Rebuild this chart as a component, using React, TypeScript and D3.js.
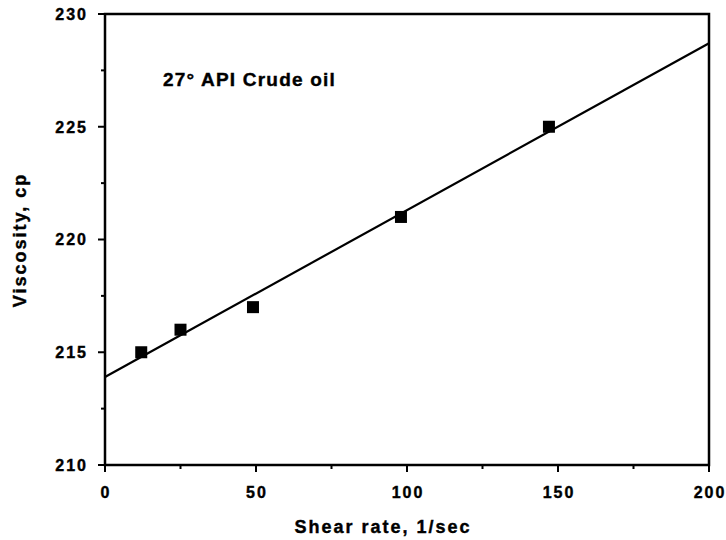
import React, { useEffect, useRef } from "react";
import * as d3 from "d3";

// measured points, 27° API crude oil
const shearRate = [12, 25, 49, 98, 147];
const viscosity = [215, 216, 217, 221, 225];

const xMajor = [0, 50, 100, 150, 200];
const xMinor = [25, 75, 125, 175];
const yMajor = [210, 215, 220, 225, 230];
const yMinor = [212.5, 217.5, 222.5, 227.5];

export default function App() {
  const ref = useRef<SVGSVGElement | null>(null);

  useEffect(() => {
    const width = 726, height = 540;
    const margin = { top: 14, right: 17, bottom: 75, left: 105 };
    const w = width - margin.left - margin.right;
    const h = height - margin.top - margin.bottom;

    const svg = d3.select(ref.current);
    svg.selectAll("*").remove();
    svg.attr("width", width).attr("height", height);
    svg.append("rect").attr("width", width).attr("height", height).attr("fill", "#fff");

    const g = svg.append("g").attr("transform", `translate(${margin.left},${margin.top})`);
    const font = "'Liberation Sans', Arial, Helvetica, sans-serif";

    const x = d3.scaleLinear().domain([0, 200]).range([0, w]);
    const y = d3.scaleLinear().domain([210, 230]).range([h, 0]);

    // frame
    g.append("rect").attr("x", 0).attr("y", 0).attr("width", w).attr("height", h)
      .attr("fill", "none").attr("stroke", "#000").attr("stroke-width", 2.5);

    // ticks, outside only on left and bottom
    g.selectAll(".xmaj").data(xMajor).enter().append("line")
      .attr("x1", d => x(d)).attr("x2", d => x(d)).attr("y1", h).attr("y2", h + 7)
      .attr("stroke", "#000").attr("stroke-width", 2);
    g.selectAll(".xmin").data(xMinor).enter().append("line")
      .attr("x1", d => x(d)).attr("x2", d => x(d)).attr("y1", h).attr("y2", h + 4)
      .attr("stroke", "#000").attr("stroke-width", 2);
    g.selectAll(".ymaj").data(yMajor).enter().append("line")
      .attr("x1", -7).attr("x2", 0).attr("y1", d => y(d)).attr("y2", d => y(d))
      .attr("stroke", "#000").attr("stroke-width", 2);
    g.selectAll(".ymin").data(yMinor).enter().append("line")
      .attr("x1", -4).attr("x2", 0).attr("y1", d => y(d)).attr("y2", d => y(d))
      .attr("stroke", "#000").attr("stroke-width", 2);

    // tick labels
    g.selectAll(".xl").data(xMajor).enter().append("text")
      .attr("x", d => x(d) + 1).attr("y", h + 33).attr("text-anchor", "middle")
      .attr("font-family", font).attr("font-weight", "bold").attr("font-size", 16)
      .attr("letter-spacing", 2).attr("stroke", "#000").attr("stroke-width", 0.4).text(d => d);
    g.selectAll(".yl").data(yMajor).enter().append("text")
      .attr("x", -17).attr("y", d => y(d)).attr("dy", "0.36em").attr("text-anchor", "end")
      .attr("font-family", font).attr("font-weight", "bold").attr("font-size", 16)
      .attr("letter-spacing", 2).attr("stroke", "#000").attr("stroke-width", 0.4).text(d => d);

    // least-squares fit across the full axis range
    const mx = d3.mean(shearRate)!, my = d3.mean(viscosity)!;
    const sxy = d3.sum(shearRate, (v, i) => (v - mx) * (viscosity[i] - my));
    const sxx = d3.sum(shearRate, v => (v - mx) ** 2);
    const slope = sxy / sxx, icpt = my - slope * mx;
    const fit = [0, 200].map(v => [v, icpt + slope * v] as [number, number]);
    g.append("path").datum(fit)
      .attr("d", d3.line<[number, number]>().x(d => x(d[0])).y(d => y(d[1])))
      .attr("fill", "none").attr("stroke", "#000").attr("stroke-width", 2.2);

    // square markers
    const s = 12;
    g.selectAll(".pt").data(shearRate).enter().append("rect")
      .attr("x", d => x(d) - s / 2).attr("y", (d, i) => y(viscosity[i]) - s / 2)
      .attr("width", s).attr("height", s).attr("fill", "#000");

    // annotation
    g.append("text").attr("x", x(19.2)).attr("y", 72)
      .attr("font-family", font).attr("font-weight", "bold").attr("font-size", 19)
      .attr("letter-spacing", 1.2).attr("stroke", "#000").attr("stroke-width", 0.4)
      .text("27° API Crude oil");

    // axis titles
    svg.append("text").attr("x", 383).attr("y", 533).attr("text-anchor", "middle")
      .attr("font-family", font).attr("font-weight", "bold").attr("font-size", 18)
      .attr("letter-spacing", 2).attr("stroke", "#000").attr("stroke-width", 0.4)
      .text("Shear rate, 1/sec");
    svg.append("text").attr("transform", "translate(26,240) rotate(-90)").attr("text-anchor", "middle")
      .attr("font-family", font).attr("font-weight", "bold").attr("font-size", 18)
      .attr("letter-spacing", 2).attr("stroke", "#000").attr("stroke-width", 0.4)
      .text("Viscosity, cp");
  }, []);

  return <svg ref={ref} style={{ position: "absolute", left: 0, top: 0 }} />;
}
